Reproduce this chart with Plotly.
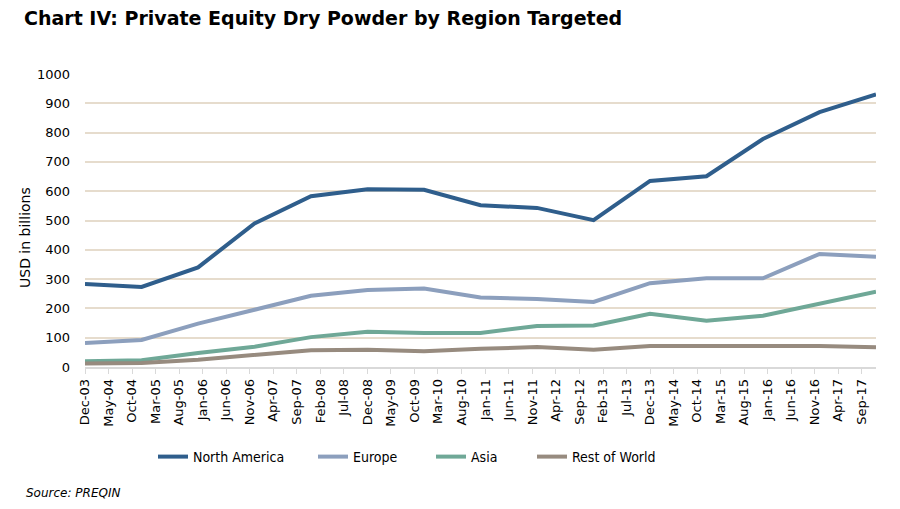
import pandas as pd
import plotly.graph_objects as go

years = list(range(2003, 2018))
dates = [f"{y}-12-01" for y in years]

north_america = [283, 273, 340, 490, 583, 607, 605, 552, 543, 501, 635, 651, 778, 870, 930]
europe = [82, 92, 148, 196, 243, 263, 268, 237, 232, 222, 286, 303, 303, 386, 376]
asia = [20, 23, 48, 69, 102, 120, 116, 116, 140, 142, 182, 158, 175, 215, 257]
rest_of_world = [12, 14, 25, 40, 57, 59, 54, 62, 68, 59, 72, 72, 71, 72, 67]

series_names = ["North America", "Europe", "Asia", "Rest of World"]
series_values = [north_america, europe, asia, rest_of_world]
colors = ["#2f5e8c", "#8c9fbd", "#6fa897", "#978b7f"]

tick_dates = pd.date_range("2003-12-01", "2017-09-01", freq="5MS")

W, H = 900, 509
OFF = 8  # page body offset
L, R, T, B = 85 - OFF, 876 - OFF, 74 - OFF, 367 - OFF
pw, ph = R - L, B - T

fig = go.Figure()
legend_x_px = [158 - OFF, 318 - OFF, 436 - OFF, 537 - OFF]
legend_names = ["legend", "legend2", "legend3", "legend4"]
for name, vals, col, lg in zip(series_names, series_values, colors, legend_names):
    fig.add_trace(go.Scatter(
        x=dates, y=vals, name=name, mode="lines",
        line=dict(color=col, width=4),
        legend=lg,
    ))

legend_common = dict(
    orientation="h", xanchor="left", yanchor="middle",
    font=dict(family="Liberation Sans Narrow, DejaVu Sans Condensed, sans-serif", size=14, color="#000000"),
    bgcolor="rgba(0,0,0,0)", itemwidth=30, tracegroupgap=0,
)
legend_y = (B - (457 - OFF)) / ph
layout_legends = {}
for lg, xp in zip(legend_names, legend_x_px):
    d = dict(legend_common)
    d["x"] = (xp - L - 5) / pw
    d["y"] = legend_y
    layout_legends[lg] = d

fig.update_layout(
    width=W, height=H,
    margin=dict(l=L, r=W - R, t=T, b=H - B),
    paper_bgcolor="white", plot_bgcolor="white",
    font=dict(family="DejaVu Sans, Verdana, sans-serif", color="#000000"),
    title=dict(
        text="<b>Chart IV: Private Equity Dry Powder by Region Targeted</b>",
        x=(24 - OFF) / W, xanchor="left", xref="container",
        y=1 - (18 - OFF) / H, yanchor="middle", yref="container",
        font=dict(family="DejaVu Sans, Verdana, sans-serif", size=19, color="#000000"),
    ),
    showlegend=True,
    **layout_legends,
    xaxis=dict(
        type="date",
        range=["2003-12-01", "2017-12-01"],
        tickvals=tick_dates,
        tickformat="%b-%y",
        tickangle=-90,
        tickfont=dict(size=13, family="DejaVu Sans, Verdana, sans-serif"),
        showgrid=False,
        showline=True, linecolor="#d9d9d9", linewidth=1.5,
        ticks="outside", ticklen=5, tickcolor="#d9d9d9", tickwidth=1,
        zeroline=False,
    ),
    yaxis=dict(
        range=[0, 1000],
        tickvals=list(range(0, 1001, 100)),
        tickfont=dict(size=13, family="DejaVu Sans, Verdana, sans-serif"),
        showgrid=True, gridcolor="#e6dccd", gridwidth=1.5,
        zeroline=False, showline=False,
        ticks="", ticklabelstandoff=14,
    ),
    annotations=[
        dict(text="USD in billions", xref="paper", yref="paper",
             x=((25 - OFF) - L) / pw, y=(B - (238 - OFF)) / ph, xanchor="center", yanchor="middle",
             textangle=-90, showarrow=False,
             font=dict(size=14, family="DejaVu Sans, Verdana, sans-serif", color="#000000")),
        dict(text="<i>Source: PREQIN</i>", xref="paper", yref="paper",
             x=((24 - OFF) - L) / pw, y=(B - (493 - OFF)) / ph, xanchor="left", yanchor="middle",
             showarrow=False,
             font=dict(size=12, family="DejaVu Sans, Verdana, sans-serif", color="#000000")),
    ],
)

fig.write_html("out.html")
